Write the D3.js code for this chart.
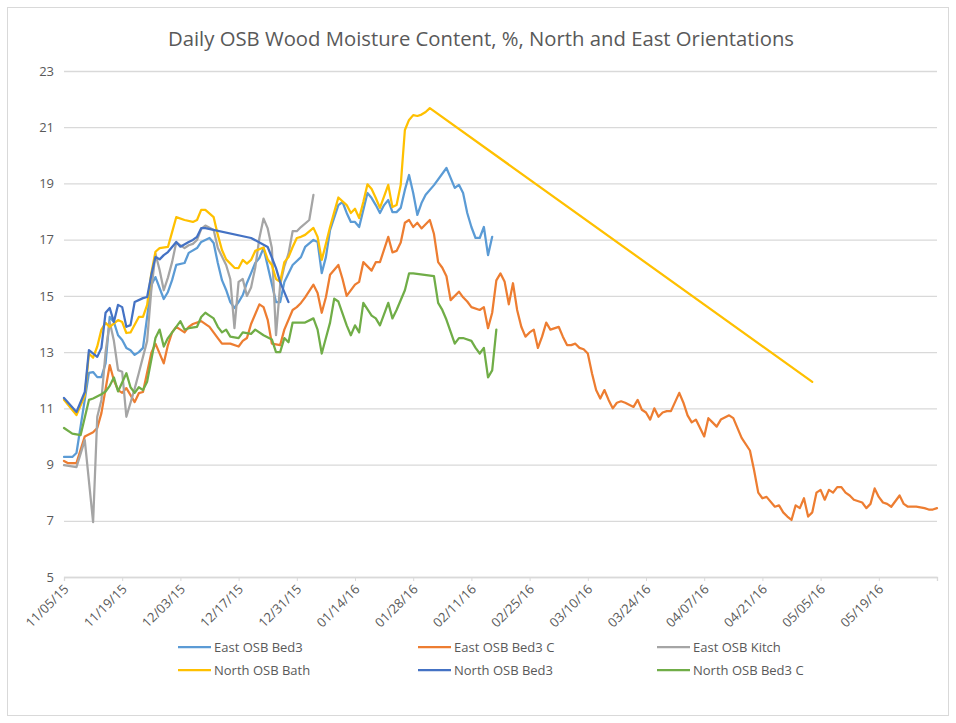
<!DOCTYPE html>
<html>
<head>
<meta charset="utf-8">
<script src="https://cdn.jsdelivr.net/npm/d3@7"></script>
<style>
  body { margin: 0; background: #fff; }
  text { font-family: "Open Sans", sans-serif; fill: #595959; }
</style>
</head>
<body>
<div id="chart"></div>
<script>
// Days counted from 11/05/15, values in % moisture content
const startDate = new Date(Date.UTC(2015, 10, 5));

const seriesNames = ['East OSB Bed3', 'East OSB Bed3 C', 'East OSB Kitch',
  'North OSB Bath', 'North OSB Bed3', 'North OSB Bed3 C'];
const seriesColors = ['#5B9BD5', '#ED7D31', '#A5A5A5', '#FFC000', '#4472C4', '#70AD47'];

const eastBed3 = [[0,9.27],[2,9.27],[3,9.41],[6,12.26],[7,12.29],[8,12.11],[9,12.11],[10,12.6],
  [11,14.25],[12,14.07],[13,13.6],[14,13.43],[15,13.15],[16,13.07],[17,12.9],[18,13.0],[19,13.15],
  [20,14.25],[21,15.39],[22,15.67],[24,14.89],[25,15.14],[26,15.56],[27,16.1],[29,16.17],[30,16.53],
  [32,16.7],[33,16.92],[35,17.06],[36,16.88],[37,16.17],[38,15.56],[39,15.21],[40,14.78],[41,14.57],
  [42,14.78],[43,15.03],[44,15.46],[45,15.81],[46,16.17],[47,16.35],[48,16.7],[51,14.78],[52,14.78],
  [53,15.49],[55,16.1],[57,16.38],[58,16.74],[60,16.99],[61,16.92],[62,15.81],[63,16.38],[64,17.34],
  [66,18.23],[67,18.34],[68,17.95],[69,17.63],[70,17.63],[71,17.45],[72,18.06],[73,18.66],[74,18.48],
  [75,18.23],[76,17.95],[77,18.23],[78,18.41],[79,17.98],[80,17.98],[81,18.13],[82,18.77],[83,19.3],
  [84,18.66],[85,17.88],[86,18.3],[87,18.6],[89,18.94],[92,19.55],[93,19.2],[94,18.84],[95,18.95],
  [96,18.66],[97,17.95],[98,17.45],[99,17.06],[100,17.06],[101,17.45],[102,16.45],[103,17.1]];

const eastBed3C = [[0,9.13],[1,9.05],[3,9.05],[5,10.0],[7,10.15],[8,10.3],[9,10.83],[11,12.54],
  [12,12.0],[13,11.65],[14,11.55],[15,11.72],[17,11.22],[18,11.54],[19,11.58],[21,12.97],[22,13.3],
  [24,12.6],[25,13.25],[26,13.7],[27,13.9],[29,13.7],[30,13.9],[31,14.0],[33,14.1],[35,13.9],
  [37,13.5],[38,13.3],[40,13.3],[42,13.2],[43,13.4],[44,13.5],[45,14.0],[47,14.7],[48,14.6],
  [49,14.15],[50,13.3],[52,13.25],[53,13.8],[55,14.5],[56,14.6],[57,14.75],[58,14.95],[60,15.4],
  [61,15.1],[62,14.4],[63,14.95],[64,15.75],[66,16.1],[67,15.6],[68,15.0],[70,15.4],[71,15.5],
  [72,16.2],[74,15.9],[75,16.2],[76,16.2],[78,17.1],[79,16.55],[80,16.6],[81,16.9],[82,17.6],
  [83,17.7],[84,17.45],[85,17.6],[86,17.4],[88,17.7],[89,17.2],[90,16.2],[91,16.0],[92,15.7],
  [93,14.85],[95,15.15],[96,14.95],[97,14.8],[98,14.6],[100,14.5],[101,14.6],[102,13.85],[103,14.4],
  [104,15.55],[105,15.8],[106,15.5],[107,14.7],[108,15.45],[109,14.5],[110,13.9],[111,13.55],
  [112,13.7],[113,13.8],[114,13.15],[115,13.55],[116,14.05],[117,13.8],[119,13.9],[120,13.55],
  [121,13.25],[122,13.25],[123,13.3],[124,13.15],[125,13.1],[126,12.95],[127,12.25],[128,11.65],
  [129,11.35],[130,11.65],[131,11.3],[132,11.0],[133,11.2],[134,11.25],[135,11.2],[137,11.05],
  [138,11.3],[139,10.95],[140,10.85],[141,10.6],[142,11.0],[143,10.7],[144,10.85],[145,10.9],
  [146,10.9],[148,11.55],[149,11.2],[150,10.75],[151,10.5],[152,10.6],[154,10.0],[155,10.65],
  [156,10.5],[157,10.35],[158,10.6],[160,10.75],[161,10.65],[163,9.95],[165,9.5],[166,8.8],
  [167,8.0],[168,7.8],[169,7.85],[171,7.5],[172,7.55],[173,7.3],[174,7.15],[175,7.03],[176,7.55],
  [177,7.45],[178,7.8],[179,7.15],[180,7.3],[181,8.0],[182,8.1],[183,7.75],[184,8.1],[185,8.0],
  [186,8.2],[187,8.2],[188,8.0],[189,7.9],[190,7.75],[192,7.65],[193,7.45],[194,7.6],[195,8.15],
  [196,7.85],[197,7.65],[198,7.6],[199,7.5],[201,7.9],[202,7.6],[203,7.5],[204,7.5],[205,7.5],
  [207,7.45],[208,7.4],[209,7.4],[210,7.45]];

const eastKitch = [[0,8.98],[3,8.91],[5,9.87],[7,6.95],[8,10.7],[9,11.3],[10,13.0],[11,14.07],
  [12,13.4],[13,12.36],[14,12.3],[15,10.7],[16,11.2],[17,11.7],[18,12.26],[19,12.83],[20,13.4],
  [21,15.2],[22,16.5],[23,15.92],[24,15.2],[25,15.65],[26,16.2],[27,16.9],[29,16.7],[30,16.8],
  [31,16.85],[32,16.99],[33,17.38],[34,17.5],[36,17.34],[37,16.7],[38,16.4],[39,16.1],[40,15.6],
  [41,13.85],[42,15.5],[43,15.6],[44,15.0],[45,15.3],[46,16.0],[47,17.06],[48,17.75],[49,17.4],
  [50,16.7],[51,13.6],[52,15.4],[53,16.05],[54,16.5],[55,17.3],[56,17.3],[57,17.45],[59,17.7],
  [60,18.59]];

const northBath = [[0,11.3],[3,10.76],[5,11.45],[6,12.95],[7,12.8],[8,13.2],[9,13.8],[10,14.04],
  [11,13.9],[13,14.14],[14,14.07],[15,13.68],[16,13.7],[18,14.25],[19,14.25],[20,14.68],[21,15.8],
  [22,16.57],[23,16.7],[25,16.74],[26,17.27],[27,17.8],[29,17.7],[31,17.63],[32,17.7],[33,18.06],
  [34,18.06],[36,17.8],[37,17.17],[38,16.63],[39,16.3],[41,16.0],[42,15.99],[43,16.28],[44,16.15],
  [45,16.28],[46,16.6],[48,16.72],[49,16.3],[50,16.1],[51,15.6],[52,15.5],[53,16.2],[54,16.38],
  [55,16.74],[56,17.06],[57,17.1],[58,17.17],[60,17.42],[61,17.1],[62,16.28],[63,16.85],[64,17.45],
  [65,17.98],[66,18.5],[68,18.23],[69,17.95],[70,18.1],[71,17.77],[72,18.34],[73,18.97],[74,18.8],
  [75,18.48],[76,18.13],[78,18.95],[79,18.16],[80,18.23],[81,18.95],[82,20.9],[83,21.26],[84,21.43],
  [85,21.4],[86,21.45],[87,21.54],[88,21.68],[180,11.94]];

const northBed3 = [[0,11.37],[3,10.87],[5,11.58],[6,13.07],[8,12.83],[9,13.15],[10,14.4],[11,14.57],
  [12,14.07],[13,14.68],[14,14.6],[15,13.9],[16,13.96],[17,14.78],[19,14.92],[20,14.96],[21,15.74],
  [22,16.38],[23,16.3],[24,16.45],[25,16.56],[27,16.92],[28,16.75],[30,16.92],[31,16.99],[32,17.1],
  [33,17.41],[34,17.41],[45,17.06],[49,16.74],[51,15.99],[52,15.49],[54,14.78]];

const northBed3C = [[0,10.3],[2,10.1],[4,10.05],[6,11.3],[7,11.35],[9,11.5],[10,11.6],[11,11.8],
  [12,12.1],[13,11.6],[15,12.25],[16,11.75],[17,11.55],[18,11.75],[19,11.65],[20,11.95],[22,13.5],
  [23,13.8],[24,13.2],[25,13.5],[27,13.9],[28,14.1],[29,13.8],[30,13.85],[32,13.9],[33,14.25],
  [34,14.4],[35,14.3],[36,14.2],[37,13.9],[38,13.7],[39,13.8],[40,13.55],[42,13.5],[43,13.7],
  [45,13.65],[46,13.8],[48,13.6],[50,13.45],[51,13.0],[52,13.0],[53,13.5],[54,13.35],[55,14.05],
  [57,14.05],[58,14.05],[60,14.2],[61,13.8],[62,12.95],[63,13.5],[64,14.05],[65,14.9],[66,14.8],
  [68,13.95],[69,13.6],[70,13.95],[71,13.7],[72,14.75],[74,14.3],[75,14.2],[76,13.95],[78,14.75],
  [79,14.2],[80,14.5],[82,15.2],[83,15.8],[84,15.8],[89,15.7],[90,14.75],[91,14.5],[92,14.15],
  [94,13.3],[95,13.5],[96,13.5],[98,13.4],[99,13.15],[100,12.95],[101,13.15],[102,12.1],[103,12.35],
  [104,13.8]];

const seriesData = [eastBed3, eastBed3C, eastKitch, northBath, northBed3, northBed3C];
const yTicks = [5, 7, 9, 11, 13, 15, 17, 19, 21, 23];
const axisEndDay = 210;
const tickStepDays = 14;

const width = 956, height = 723;
const margin = { top: 71, right: 19, bottom: 146, left: 64 };

const svg = d3.select('#chart').append('svg')
  .attr('width', width)
  .attr('height', height);

// chart border
svg.append('rect')
  .attr('x', 7.5).attr('y', 7.5)
  .attr('width', width - 15).attr('height', height - 15)
  .attr('fill', '#fff')
  .attr('stroke', '#D9D9D9');

const dayToDate = d => d3.utcDay.offset(startDate, d);

const x = d3.scaleUtc()
  .domain([startDate, dayToDate(axisEndDay)])
  .range([margin.left, width - margin.right]);

const y = d3.scaleLinear()
  .domain([5, 23])
  .range([height - margin.bottom, margin.top]);

// title
svg.append('text')
  .attr('x', 481).attr('y', 46)
  .attr('text-anchor', 'middle')
  .attr('font-size', 20)
  .attr('textLength', 626)
  .attr('lengthAdjust', 'spacingAndGlyphs')
  .text('Daily OSB Wood Moisture Content, %, North and East Orientations');

// gridlines + y labels
const yAxis = d3.axisLeft(y)
  .tickValues(yTicks)
  .tickSize(-(width - margin.left - margin.right))
  .tickPadding(10);

const gy = svg.append('g')
  .attr('transform', `translate(${margin.left},0)`)
  .call(yAxis);
gy.select('.domain').remove();
gy.selectAll('.tick line').attr('stroke', '#D9D9D9').attr('stroke-width', 1.3);
gy.selectAll('.tick text')
  .attr('font-size', 13)
  .attr('font-family', '"Open Sans", sans-serif')
  .attr('fill', '#595959');

// x axis with 14-day ticks
const xTickDates = d3.range(0, axisEndDay + 1, tickStepDays).map(dayToDate);
const fmt = d3.utcFormat('%m/%d/%y');
const xAxis = d3.axisBottom(x)
  .tickValues(xTickDates)
  .tickSize(4)
  .tickFormat((d, i) => i < xTickDates.length - 1 ? fmt(d) : '');

const gx = svg.append('g')
  .attr('transform', `translate(0,${height - margin.bottom})`)
  .call(xAxis);
gx.select('.domain').attr('stroke', '#D9D9D9').attr('stroke-width', 1.3);
gx.selectAll('.tick line').attr('stroke', '#D9D9D9');
gx.selectAll('.tick text')
  .attr('font-size', 13)
  .attr('font-family', '"Open Sans", sans-serif')
  .attr('fill', '#595959')
  .attr('text-anchor', 'end')
  .attr('dy', null)
  .attr('y', 0)
  .attr('transform', 'translate(5,13) rotate(-45)');

// series lines
const line = d3.line()
  .x(d => x(dayToDate(d[0])))
  .y(d => y(d[1]));

svg.append('g')
  .selectAll('path')
  .data(seriesData)
  .join('path')
  .attr('d', line)
  .attr('fill', 'none')
  .attr('stroke', (d, i) => seriesColors[i])
  .attr('stroke-width', 2.25)
  .attr('stroke-linejoin', 'round')
  .attr('stroke-linecap', 'round');

// legend, two rows of three
const legendCols = [178, 418, 657];
const legendRows = [647, 670];
const legend = svg.append('g')
  .selectAll('g')
  .data(seriesNames)
  .join('g')
  .attr('transform', (d, i) => `translate(${legendCols[i % 3]},${legendRows[Math.floor(i / 3)]})`);

legend.append('line')
  .attr('x1', 0).attr('x2', 33)
  .attr('stroke', (d, i) => seriesColors[i])
  .attr('stroke-width', 2.25);

legend.append('text')
  .attr('x', 36).attr('y', 0)
  .attr('dy', '0.35em')
  .attr('font-size', 13)
  .text(d => d);
</script>
</body>
</html>
